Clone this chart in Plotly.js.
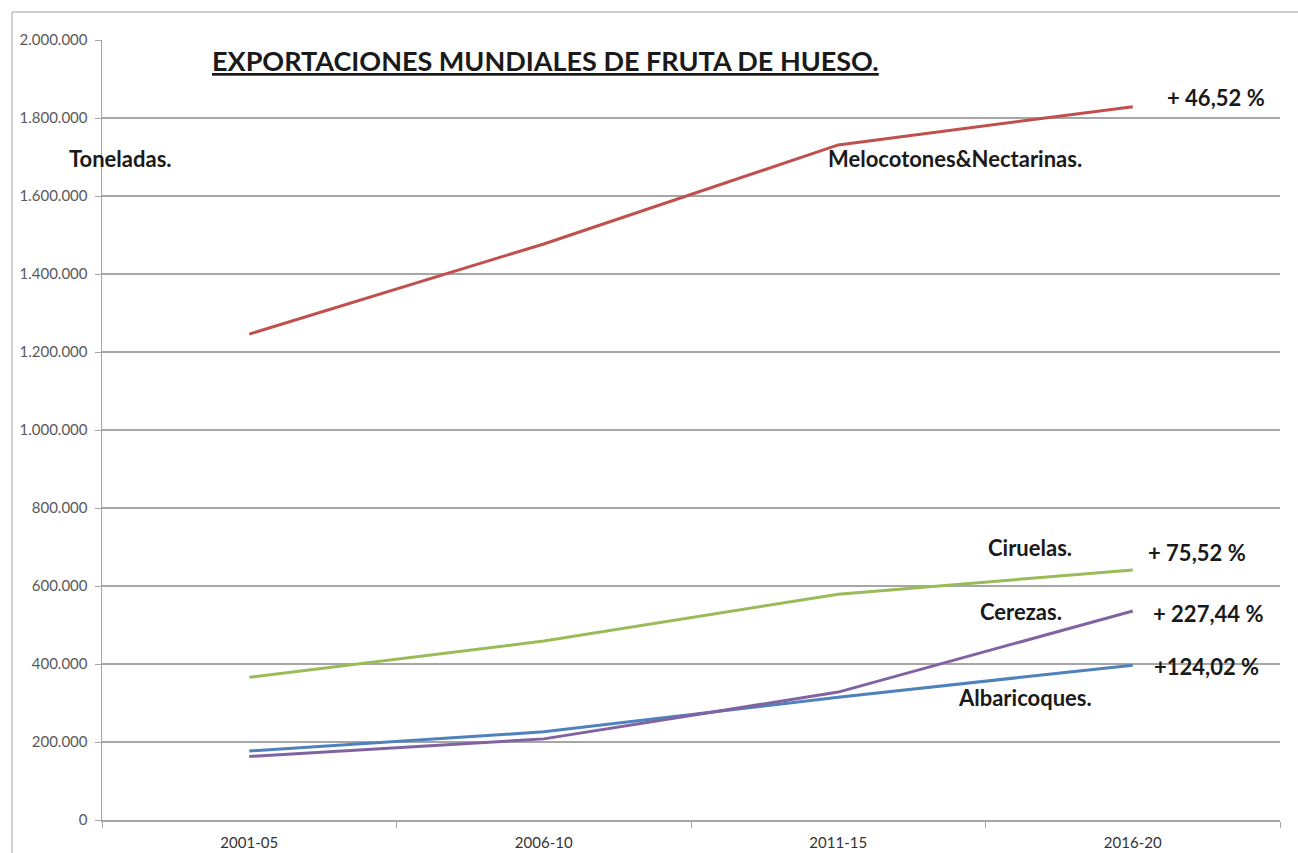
<!DOCTYPE html>
<html>
<head>
<meta charset="utf-8">
<script src="https://cdn.plot.ly/plotly-3.0.1.min.js"></script>
<style>
  html, body { margin: 0; padding: 0; background: #fff; }
  #chart { width: 1298px; height: 853px; }
</style>
</head>
<body>
<div id="chart"></div>
<script>
// Data (toneladas)
const periods = ["2001-05", "2006-10", "2011-15", "2016-20"];
const melocotones = [1246000, 1477000, 1731000, 1829000];
const ciruelas = [366000, 459000, 579000, 641000];
const cerezas = [163000, 208000, 328000, 536000];
const albaricoques = [177000, 226000, 315000, 397000];
const yTicks = [0, 200000, 400000, 600000, 800000, 1000000, 1200000, 1400000, 1600000, 1800000, 2000000];

const font = "Lato, 'Open Sans', sans-serif";

function series(name, y, color) {
  return {
    type: "scatter", mode: "lines", name: name,
    x: periods, y: y,
    line: { color: color, width: 3 },
    hoverinfo: "x+y+name"
  };
}

const data = [
  series("Melocotones&Nectarinas.", melocotones, "#C0504D"),
  series("Ciruelas.", ciruelas, "#9BBB59"),
  series("Albaricoques.", albaricoques, "#4F81BD"),
  series("Cerezas.", cerezas, "#8064A2")
];

// pixel helpers for annotation placement (paper coords)
const L = 102, R = 1280, T = 40, B = 820;
const px = v => (v - L) / (R - L);
const py = v => (B - v) / (B - T);

function label(text, x, y, size) {
  return {
    text: "<b>" + text + "</b>", xref: "paper", yref: "paper",
    x: px(x), y: py(y), xanchor: "center", yanchor: "middle",
    showarrow: false, font: { family: font, size: size || 22, color: "#1a1a1a" }
  };
}

const layout = {
  width: 1298, height: 853,
  margin: { l: L, r: 1298 - R, t: T, b: 853 - B },
  paper_bgcolor: "#fff", plot_bgcolor: "#fff",
  separators: ",.",
  showlegend: false,
  font: { family: font },
  xaxis: {
    type: "category",
    range: [-0.5, 3.5],
    showgrid: false,
    showline: true, linecolor: "#a6a6a6", linewidth: 1.5,
    ticks: "outside", tickson: "boundaries", ticklen: 6, tickcolor: "#a6a6a6",
    ticklabelstandoff: 8,
    tickfont: { family: font, size: 15, color: "#333333" },
    zeroline: false
  },
  yaxis: {
    range: [0, 2000000],
    tickvals: yTicks,
    tickformat: ",d",
    showgrid: true, gridcolor: "#a6a6a6", gridwidth: 1.5,
    showline: true, linecolor: "#a6a6a6", linewidth: 1.5,
    ticks: "outside", ticklen: 6, tickcolor: "#a6a6a6",
    ticklabelstandoff: 4,
    tickfont: { family: font, size: 15, color: "#595959" },
    zeroline: false
  },
  shapes: [
    { type: "line", xref: "paper", yref: "paper", x0: px(12), x1: px(1298), y0: py(12), y1: py(12), line: { color: "#bfbfbf", width: 1.5 } },
    { type: "line", xref: "paper", yref: "paper", x0: px(12), x1: px(12), y0: py(12), y1: py(853), line: { color: "#bfbfbf", width: 1.5 } }
  ],
  annotations: [
    {
      text: "<b><u>EXPORTACIONES MUNDIALES DE FRUTA DE HUESO.</u></b>",
      xref: "paper", yref: "paper", x: px(545), y: py(60),
      xanchor: "center", yanchor: "middle", showarrow: false,
      font: { family: font, size: 27, color: "#1a1a1a" }
    },
    label("Toneladas.", 120, 158),
    label("Melocotones&amp;Nectarinas.", 955, 158),
    label("+ 46,52 %", 1216, 98),
    label("Ciruelas.", 1030, 547),
    label("+ 75,52 %", 1197, 552),
    label("Cerezas.", 1021, 611),
    label("+ 227,44 %", 1208, 613),
    label("+124,02 %", 1206, 666),
    label("Albaricoques.", 1025, 697)
  ]
};

Plotly.newPlot("chart", data, layout, { displayModeBar: false, staticPlot: true });
</script>
</body>
</html>
